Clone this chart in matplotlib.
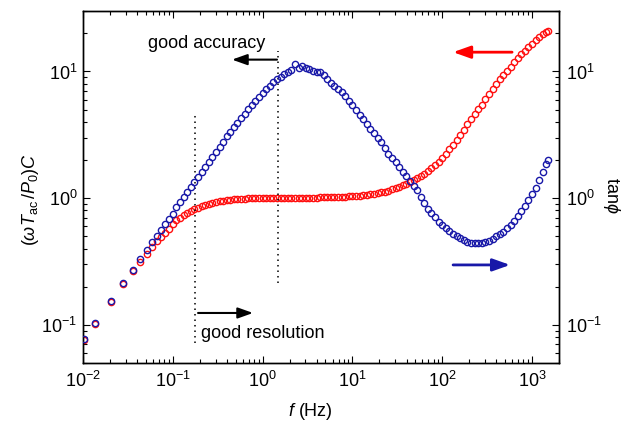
import matplotlib
matplotlib.use("Agg")
import matplotlib.pyplot as plt
from matplotlib.ticker import LogLocator, NullFormatter

plt.rcParams['font.family'] = ['Liberation Sans', 'DejaVu Sans']
plt.rcParams['mathtext.fontset'] = 'custom'
plt.rcParams['mathtext.rm'] = 'Liberation Sans'
plt.rcParams['mathtext.it'] = 'Liberation Sans:italic'
plt.rcParams['mathtext.sf'] = 'Liberation Sans'

# frequency points (Hz)
freq = [
    0.0103, 0.0136, 0.0205, 0.0281, 0.0357, 0.0434, 0.0512, 0.0582, 0.0667, 0.0744, 0.0824, 0.0899,
    0.1, 0.1096, 0.1202, 0.1318, 0.1445, 0.1585, 0.1738, 0.1905, 0.2089, 0.2291, 0.2512, 0.2754, 0.302,
    0.3311, 0.3631, 0.3981, 0.4365, 0.4786, 0.5248, 0.5754, 0.631, 0.6918, 0.7586, 0.8318, 0.912,
    1.0, 1.096, 1.202, 1.318, 1.445, 1.585, 1.738, 1.905, 2.089, 2.291, 2.512, 2.754, 3.02,
    3.311, 3.631, 3.981, 4.365, 4.786, 5.248, 5.754, 6.31, 6.918, 7.586, 8.318, 9.12,
    10.0, 10.96, 12.02, 13.18, 14.45, 15.85, 17.38, 19.05, 20.89, 22.91, 25.12, 27.54, 30.2,
    33.11, 36.31, 39.81, 43.65, 47.86, 52.48, 57.54, 63.1, 69.18, 75.86, 83.18, 91.2,
    100.0, 109.6, 120.2, 131.8, 144.5, 158.5, 173.8, 190.5, 208.9, 229.1, 251.2, 275.4, 302.0,
    331.1, 363.1, 398.1, 436.5, 478.6, 524.8, 575.4, 631.0, 691.8, 758.6, 831.8, 912.0,
    1000.0, 1096.0, 1202.0, 1318.0, 1445.0, 1500.0,
]

# (omega T_ac / P_0) C  -- red, left axis
heat_cap = [
    0.076, 0.101, 0.151, 0.209, 0.266, 0.312, 0.360, 0.410, 0.455, 0.495, 0.535, 0.575,
    0.625, 0.667, 0.700, 0.735, 0.767, 0.796, 0.818, 0.841, 0.869, 0.885, 0.902, 0.918, 0.931,
    0.944, 0.955, 0.964, 0.975, 0.979, 0.984, 0.989, 0.993, 0.995, 0.997, 0.998, 1.000,
    1.000, 1.000, 1.002, 1.000, 1.003, 1.002, 1.004, 1.003, 1.005, 1.004, 1.006, 1.005, 1.007,
    1.008, 1.008, 1.010, 1.012, 1.013, 1.015, 1.017, 1.020, 1.022, 1.025, 1.028, 1.032,
    1.036, 1.041, 1.047, 1.054, 1.062, 1.071, 1.082, 1.095, 1.110, 1.127, 1.148, 1.170, 1.200,
    1.230, 1.260, 1.300, 1.340, 1.380, 1.430, 1.490, 1.560, 1.640, 1.730, 1.830, 1.940,
    2.08, 2.24, 2.43, 2.64, 2.87, 3.14, 3.47, 3.83, 4.23, 4.61, 5.02, 5.48, 6.01,
    6.68, 7.33, 7.98, 8.71, 9.40, 10.14, 10.94, 11.8, 12.7, 13.7, 14.6, 15.6,
    16.6, 17.7, 18.7, 19.6, 20.4, 21.0,
]

# tan(phi)  -- blue, right axis
tan_phi = [
    0.077, 0.103, 0.155, 0.213, 0.271, 0.331, 0.390, 0.448, 0.505, 0.560, 0.624, 0.680,
    0.755, 0.848, 0.929, 1.019, 1.117, 1.225, 1.343, 1.469, 1.611, 1.762, 1.928, 2.113, 2.323,
    2.547, 2.799, 3.076, 3.342, 3.631, 3.945, 4.285, 4.645, 5.023, 5.433, 5.875, 6.339,
    6.792, 7.244, 7.709, 8.241, 8.790, 9.120, 9.506, 9.886, 10.35, 11.35, 10.72, 10.96, 10.57,
    10.47, 10.09, 9.95, 9.82, 9.38, 8.71, 8.17, 7.73, 7.31, 6.85, 6.35, 5.87,
    5.41, 4.97, 4.56, 4.18, 3.83, 3.52, 3.25, 3.01, 2.77, 2.48, 2.25, 2.08, 1.92,
    1.77, 1.62, 1.49, 1.37, 1.25, 1.15, 1.02, 0.912, 0.822, 0.759, 0.705, 0.653,
    0.612, 0.579, 0.548, 0.522, 0.501, 0.481, 0.466, 0.452, 0.443, 0.440, 0.439, 0.442, 0.449,
    0.461, 0.478, 0.498, 0.520, 0.543, 0.578, 0.617, 0.661, 0.721, 0.789, 0.865, 0.966,
    1.079, 1.211, 1.384, 1.603, 1.871, 2.0,
]

RED = '#ff1010'
BLUE = '#1818a8'
FS = 13

fig = plt.figure(figsize=(6.24, 4.24), dpi=100)
ax = fig.add_axes([0.133, 0.144, 0.763, 0.830])
ax2 = ax.twinx()

ax.plot(freq, heat_cap, 'o', ms=4.5, mfc='none', mec=RED, mew=1.0, zorder=2)
ax2.plot(freq, tan_phi, 'o', ms=4.5, mfc='none', mec=BLUE, mew=1.0, zorder=3)

for a in (ax, ax2):
    a.set_xscale('log')
    a.set_yscale('log')
    a.set_xlim(1e-2, 2e3)
    a.set_ylim(0.05, 30)
    for s in a.spines.values():
        s.set_linewidth(1.0)
ax2.set_zorder(ax.get_zorder() + 1)
ax2.patch.set_visible(False)

ax.xaxis.set_major_locator(LogLocator(base=10, numticks=20))
ax.xaxis.set_minor_locator(LogLocator(base=10, subs=range(2, 10), numticks=20))
ax.xaxis.set_minor_formatter(NullFormatter())
ax.tick_params(axis='x', which='both', direction='in', top=True, labelsize=FS, pad=6)
ax.tick_params(axis='y', which='both', direction='in', right=False, labelsize=FS, pad=4)
ax.tick_params(which='major', length=5, width=0.8)
ax.tick_params(which='minor', length=3, width=0.8)
ax2.tick_params(axis='y', which='both', direction='in', labelsize=FS, pad=5)
ax2.tick_params(which='major', length=5, width=0.8)
ax2.tick_params(which='minor', length=3, width=0.8)
ax.yaxis.set_minor_formatter(NullFormatter())
ax2.yaxis.set_minor_formatter(NullFormatter())

ax.set_xlabel(r'$f$ (Hz)', fontsize=FS)
ax.xaxis.label.set(va='center', ha='center')
ax.xaxis.set_label_coords(0.477, -0.139)
ax.set_ylabel(r'$(\omega T_{\mathrm{ac}}\,/P_{\mathrm{0}})C$', fontsize=FS)
ax.yaxis.label.set(va='center', ha='center', rotation_mode='default')
ax.yaxis.set_label_coords(-0.110, 0.463)
ax2.set_ylabel(r'tan$\phi$', fontsize=FS, rotation=270)
ax2.yaxis.label.set(va='center', ha='center', rotation_mode='default')
ax2.yaxis.set_label_coords(1.111, 0.477)

# dotted guide lines
ax.plot([0.1766, 0.1766], [0.0721, 4.70], color='k', lw=1.1, ls=(0, (1, 2.6)))
ax.plot([1.47, 1.47], [0.215, 14.6], color='k', lw=1.1, ls=(0, (1, 2.6)))

arrow = '-|>,head_length=0.7,head_width=0.25'
ax.annotate('', xy=(0.456, 12.4), xytext=(1.445, 12.4),
            arrowprops=dict(arrowstyle=arrow, color='k', lw=1.5, mutation_scale=13,
                            shrinkA=0, shrinkB=0))
ax.annotate('', xy=(0.782, 0.124), xytext=(0.191, 0.124),
            arrowprops=dict(arrowstyle=arrow, color='k', lw=1.5, mutation_scale=13,
                            shrinkA=0, shrinkB=0))
ax.annotate('', xy=(132, 14.2), xytext=(599, 14.2),
            arrowprops=dict(arrowstyle=arrow, color='red', lw=2, mutation_scale=15,
                            shrinkA=0, shrinkB=0))
ax.annotate('', xy=(569, 0.297), xytext=(132, 0.297),
            arrowprops=dict(arrowstyle=arrow, color=BLUE, lw=2, mutation_scale=15,
                            shrinkA=0, shrinkB=0))

ax.text(0.053, 15.2, 'good accuracy', fontsize=FS, va='baseline', ha='left')
ax.text(0.206, 0.079, 'good resolution', fontsize=FS, va='baseline', ha='left')

fig.savefig('out.png', dpi=100)
